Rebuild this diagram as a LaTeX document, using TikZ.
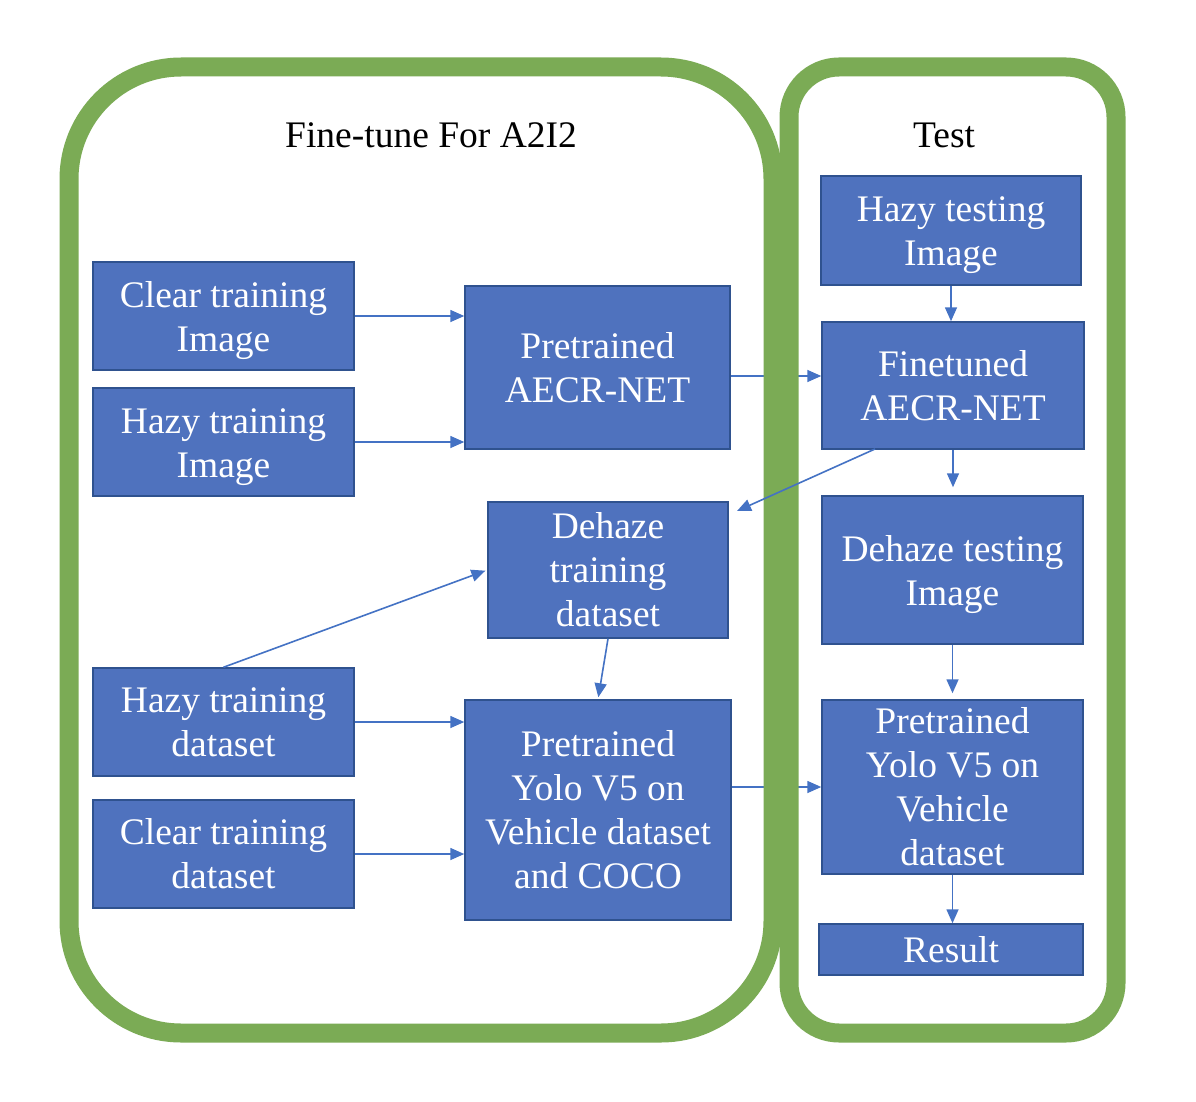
\documentclass[tikz,border=0pt]{standalone}
\usepackage{fontspec}
\setmainfont{Liberation Serif}
\usetikzlibrary{arrows.meta}
\definecolor{frameg}{HTML}{7BAB55}
\definecolor{boxfill}{HTML}{4F72BE}
\definecolor{boxline}{HTML}{2F528F}
\definecolor{arrc}{HTML}{4472C4}
\begin{document}
\begin{tikzpicture}[x=1pt,y=-1pt,
  box/.style={draw=boxline,line width=1.5pt,fill=boxfill,text=white,inner sep=0pt,align=center,
    font=\fontsize{37.5}{44}\selectfont},
  boxtxt/.style={text=white,inner sep=0pt,align=center,font=\fontsize{37.5}{44}\selectfont},
  ttl/.style={text=black,inner sep=0pt,font=\fontsize{37.5}{44}\selectfont},
  arr/.style={draw=arrc,line width=1.6pt,-{Triangle[length=14pt,width=12pt]}},
  frame/.style={draw=frameg,line width=19pt}]
\useasboundingbox (0,0) rectangle (1196,1102);
\fill[white] (0,0) rectangle (1196,1102);
% boxes
\node[box,minimum width=261,minimum height=108] (c1) at (223.5,316) {};
\node[boxtxt] (c1t) at ([yshift=-5pt]c1.center) {Clear training\\Image};
\node[box,minimum width=261,minimum height=108] (h1) at (223.5,442) {};
\node[boxtxt] (h1t) at ([yshift=-5pt]h1.center) {Hazy training\\Image};
\node[box,minimum width=265,minimum height=163] (aecr) at (597.5,367.5) {Pretrained\\AECR-NET};
\node[box,minimum width=240,minimum height=136] (dehaze) at (608,570) {Dehaze\\training\\dataset};
\node[box,minimum width=261,minimum height=108] (hd) at (223.5,722) {Hazy training\\dataset};
\node[box,minimum width=261,minimum height=108] (cd) at (223.5,854) {Clear training\\dataset};
\node[box,minimum width=266,minimum height=220] (yolo) at (598,810) {Pretrained\\Yolo V5 on\\Vehicle dataset\\and COCO};
\node[box,minimum width=260,minimum height=109] (ht) at (951,230.5) {};
\node[boxtxt] (htt) at ([yshift=-5pt]ht.center) {Hazy testing\\Image};
\node[box,minimum width=262,minimum height=127] (ft) at (953,385.5) {Finetuned\\AECR-NET};
\node[box,minimum width=261,minimum height=148] (dt) at (952.5,570) {};
\node[boxtxt] (dtt) at ([yshift=-5pt]dt.center) {Dehaze testing\\Image};
\node[box,minimum width=261,minimum height=174] (yt) at (952.5,787) {Pretrained\\Yolo V5 on\\Vehicle\\dataset};
\node[box,minimum width=264,minimum height=51] (res) at (951,949.5) {Result};
% titles
\node[ttl] (t1) at (431,135) {Fine-tune For A2I2};
\node[ttl] (t2) at (944,135) {Test};
% arrows passing under the frames
\draw[arr] ([yshift=-8.5pt]aecr.east) -- ([yshift=-8.5pt]aecr.east -| ft.west);
\draw[arr] (yolo.east |- yt.west) -- (yt.west);
% frames
\draw[frame,rounded corners=112] (69,67) rectangle (773,1033);
\draw[frame,rounded corners=50] (789,67) rectangle (1116,1033);
% other arrows
\coordinate (dtip) at (737,511);
\coordinate (fstart) at (875,449);
\draw[arr] (c1.east) -- (c1.east -| aecr.west);
\draw[arr] (h1.east) -- (h1.east -| aecr.west);
\draw[arr] (ht.south) -- (ht.south |- ft.north);
\draw[arr,shorten >=8pt] (ft.south) -- (ft.south |- dt.north);
\draw[arr] (fstart) -- (dtip);
\draw[arr,shorten >=2pt] (hd.north) -- (dehaze.west);
\draw[arr,shorten >=2pt] (dehaze.south) -- (yolo.north);
\draw[arr] (hd.east) -- (hd.east -| yolo.west);
\draw[arr] (cd.east) -- (cd.east -| yolo.west);
\draw[arr,shorten >=6pt] (dt.south) -- (dt.south |- yt.north);
\draw[arr] (yt.south) -- (yt.south |- res.north);
\end{tikzpicture}
\end{document}
